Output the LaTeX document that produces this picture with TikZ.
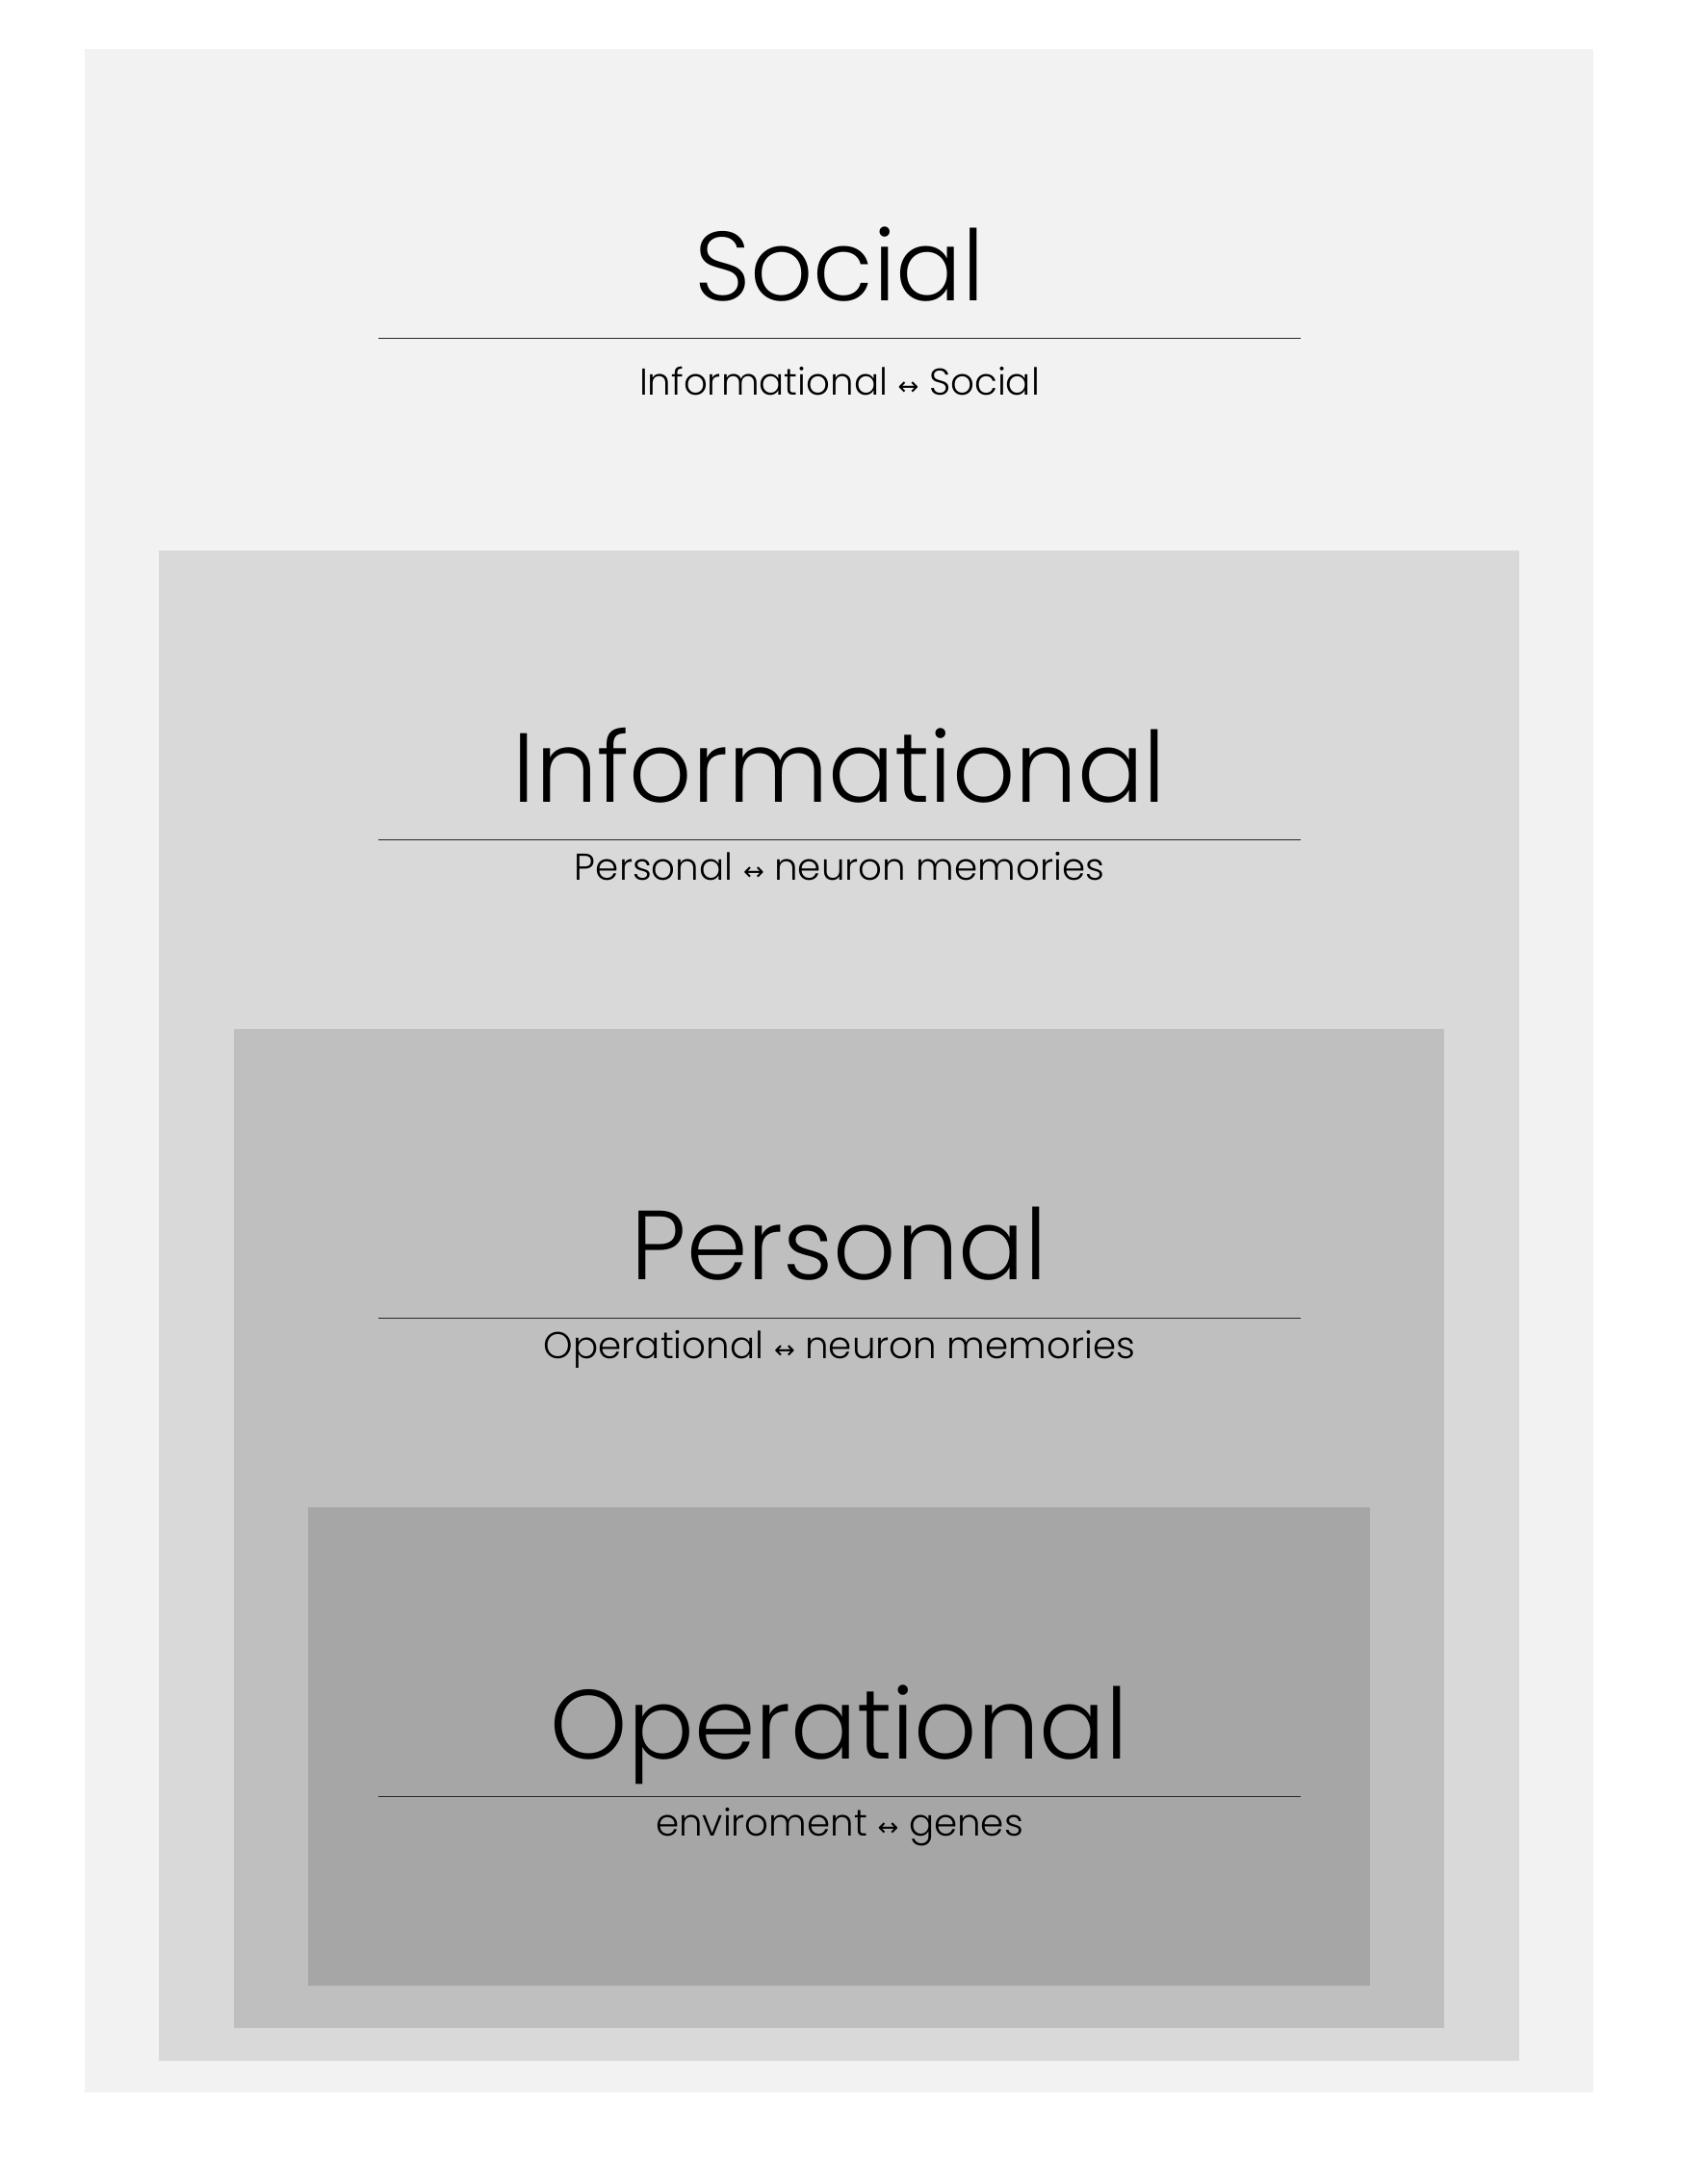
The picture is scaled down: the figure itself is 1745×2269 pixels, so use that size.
\documentclass[tikz,border=0pt]{standalone}
\usepackage{fontspec}
\setmainfont{Poppins}[UprightFont={* Light}]
\newfontfamily\symfont{DejaVu Sans}
\definecolor{lvA}{HTML}{F2F2F2}
\definecolor{lvB}{HTML}{D9D9D9}
\definecolor{lvC}{HTML}{BFBFBF}
\definecolor{lvD}{HTML}{A6A6A6}
\newcommand{\arr}{{\symfont\fontsize{13}{13}\selectfont ↔}}
\tikzset{
  title/.style={anchor=base, inner sep=0pt, font=\fontsize{51}{51}\selectfont},
  subtitle/.style={anchor=base, inner sep=0pt, font=\fontsize{19.4}{20}\selectfont},
  rule/.style={draw=black!85, line width=0.5pt},
}
\begin{document}
\begin{tikzpicture}[x=0.5pt,y=-0.5pt]
\useasboundingbox (0,0) rectangle (1745,2269);
\fill[white] (0,0) rectangle (1745,2269);
\fill[lvA] (88,51) rectangle (1655,2174);
\fill[lvB] (165,572) rectangle (1578,2141);
\fill[lvC] (243,1069) rectangle (1500,2107);
\fill[lvD] (320,1566) rectangle (1423,2063);
% Social
\node[title] (socT) at (872,313) {Social};
\coordinate (socL) at (393,351);
\coordinate (socR) at (1351,351);
\draw[rule] (socL) -- (socR);
\node[subtitle] (socS) at (872,410) {Informational \arr{} Social};
% Informational
\node[title] (infT) at (872,833) {Informational};
\coordinate (infL) at (393,872);
\coordinate (infR) at (1351,872);
\draw[rule] (infL) -- (infR);
\node[subtitle] (infS) at (872,914) {Personal \arr{} neuron memories};
% Personal
\node[title] (perT) at (872,1329) {Personal};
\coordinate (perL) at (393,1369);
\coordinate (perR) at (1351,1369);
\draw[rule] (perL) -- (perR);
\node[subtitle] (perS) at (872,1411) {Operational \arr{} neuron memories};
% Operational
\node[title] (opT) at (872,1827) {Operational};
\coordinate (opL) at (393,1866);
\coordinate (opR) at (1351,1866);
\draw[rule] (opL) -- (opR);
\node[subtitle] (opS) at (872,1907) {enviroment \arr{} genes};
\end{tikzpicture}
\end{document}
